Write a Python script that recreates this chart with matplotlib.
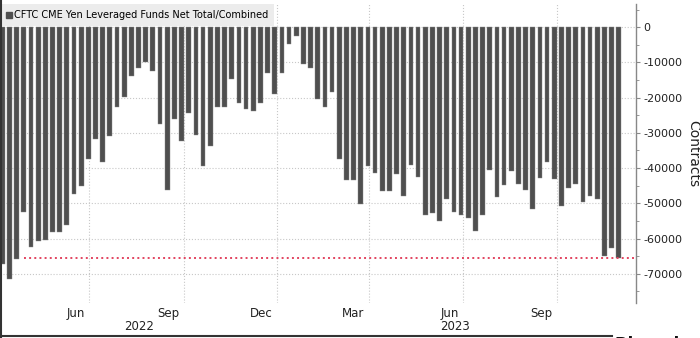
import matplotlib
matplotlib.use('Agg')
import matplotlib.pyplot as plt
import matplotlib.dates as mdates
import matplotlib.transforms as mtransforms
from matplotlib.lines import Line2D
import pandas as pd

# weekly CFTC readings (Tuesdays), contracts
weeks = pd.date_range('2022-03-08', periods=87, freq='7D')
net_total = [
    -67200, -71400, -65900, -52500, -62400, -60700, -60400, -58100, -58100, -56200,
    -47300, -45000, -37500, -31700, -38400, -30800, -22800, -19700, -13800, -11700,
    -9900, -12500, -27400, -46100, -26100, -32200, -24300, -30700, -39300, -33700,
    -22800, -22800, -14600, -21500, -23300, -23800, -21500, -13100, -18900, -12900,
    -4800, -2400, -10500, -11500, -20500, -22600, -18400, -37300, -43300, -43300,
    -50100, -39500, -41300, -46400, -46400, -41800, -47900, -39000, -42400, -53400,
    -52700, -54900, -48800, -52600, -53400, -54300, -57900, -53400, -40600, -48300,
    -44700, -40800, -44400, -46100, -51600, -42700, -38200, -43000, -50800, -45700,
    -44400, -49600, -47800, -48800, -65100, -62600, -65600,
]
month_ticks = pd.to_datetime(['2022-06-01', '2022-09-01', '2022-12-01',
                              '2023-03-01', '2023-06-01', '2023-09-01'])
month_labels = ['Jun', 'Sep', 'Dec', 'Mar', 'Jun', 'Sep']
year_labels = ['2022', '2023']
y_ticks = [0, -10000, -20000, -30000, -40000, -50000, -60000, -70000]

bar_color = '#4f4f4f'
grid_color = '#c8c8c8'

fig = plt.figure(figsize=(7, 3.38), dpi=100)
ax = fig.add_axes([0, 0.1036, 0.9086, 0.886])

x = mdates.date2num(weeks)
ax.bar(x, net_total, width=4.6, color=bar_color, edgecolor='#8a8a8a',
       linewidth=0.3, zorder=3)

# dotted marker at the latest reading
ax.hlines(net_total[-1], x[3], x[-1] + 30, colors='#e2435f', linestyles=':',
          linewidth=1.4, zorder=4)

ax.set_xlim(x[0] - 2.25, x[0] + 618.8)
ax.set_ylim(-78300, 6700)

ax.set_xticks(mdates.date2num(month_ticks))
ax.set_xticklabels(month_labels, ha='right', fontsize=8.5, color='#222222')
ax.tick_params(axis='x', length=0, pad=3)
shift = mtransforms.ScaledTranslation(-0.045, 0, fig.dpi_scale_trans)
for lbl in ax.get_xticklabels():
    lbl.set_transform(lbl.get_transform() + shift)

ax.yaxis.tick_right()
ax.set_yticks(y_ticks)
ax.set_yticklabels([str(v) for v in y_ticks], fontsize=8, color='#222222')
ax.set_yticks(range(-75000, 5001, 5000), minor=True)
ax.tick_params(axis='y', which='major', length=3, width=0.8, pad=2, color='#888888')
ax.tick_params(axis='y', which='minor', length=2, width=0.6, color='#888888')

ax.grid(True, which='major', linestyle=':', color=grid_color, linewidth=0.8, zorder=0)

for s in ['top', 'left', 'bottom']:
    ax.spines[s].set_visible(False)
ax.spines['right'].set_color('#888888')
ax.spines['right'].set_linewidth(1.0)

ax.text(139 / 636, -0.077, year_labels[0], transform=ax.transAxes, ha='center',
        va='center', fontsize=8.5, color='#222222')
ax.text(455 / 636, -0.077, year_labels[1], transform=ax.transAxes, ha='center',
        va='center', fontsize=8.5, color='#222222')

fig.text(693 / 700, 1 - 154 / 338, 'Contracts', rotation=270, ha='center',
         va='center', fontsize=10, color='#222222')

handle = Line2D([], [], marker='s', linestyle='none', color=bar_color, markersize=5)
leg = ax.legend([handle], ['CFTC CME Yen Leveraged Funds Net Total/Combined'],
                loc='upper left', bbox_to_anchor=(0, 0.997), borderaxespad=0,
                frameon=True, fancybox=False, fontsize=7.0, handlelength=0.6,
                handletextpad=0.25, borderpad=0.6)
leg.get_frame().set_facecolor('#ececec')
leg.get_frame().set_edgecolor('none')
leg.get_frame().set_alpha(1)
leg.set_zorder(6)

# image borders and the cut-off source tag
fig.add_artist(Line2D([0.0015, 0.0015], [0, 1], color='#333333', linewidth=1.5))
fig.add_artist(Line2D([0, 0.874], [0.006, 0.006], color='#333333', linewidth=1.5))
fig.text(0.878, 0.006, 'Bloomberg \u25a0', fontsize=12, fontweight='bold', va='top',
         color='#111111')

fig.savefig('out.png', dpi=100)
